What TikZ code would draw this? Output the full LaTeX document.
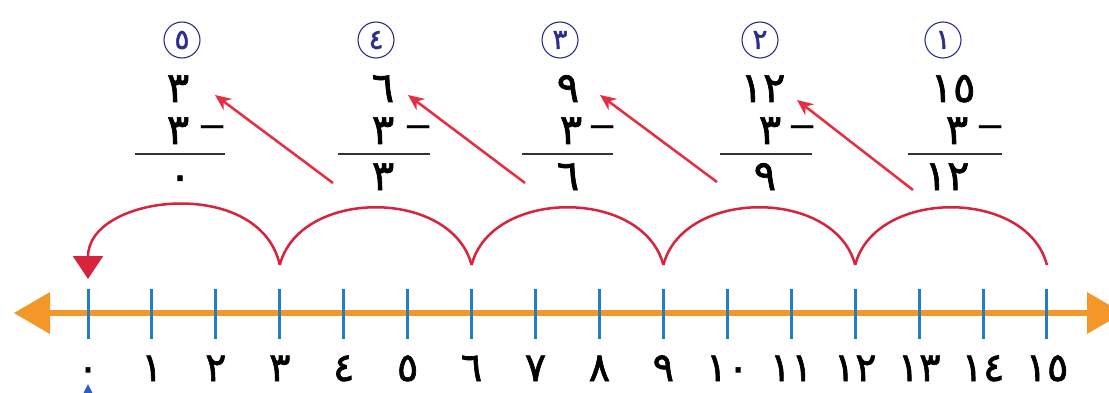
\documentclass[tikz,border=0pt]{standalone}
\usepackage{fontspec}
\newfontfamily\arabicfont[Script=Arabic,FakeBold=1.6]{DejaVu Sans}
\newfontfamily\plainfont{DejaVu Sans}
\usetikzlibrary{arrows.meta}
\definecolor{lineorange}{RGB}{243,152,40}
\definecolor{tickblue}{RGB}{35,125,190}
\definecolor{arcred}{RGB}{215,35,60}
\definecolor{arrred}{RGB}{230,45,65}
\definecolor{navy}{RGB}{45,45,140}
\definecolor{markblue}{RGB}{40,95,200}
\tikzset{
  digit/.style={font=\arabicfont\fontsize{42}{42}\selectfont, inner sep=0pt, anchor=base},
  lbl/.style={font=\arabicfont\fontsize{40}{40}\selectfont, inner sep=0pt, anchor=base},
  minussign/.style={font=\plainfont\fontsize{36}{36}\selectfont, inner sep=0pt},
  circnum/.style={circle, draw=navy, line width=1.1pt, minimum size=36pt, inner sep=0pt, text=navy,
    font=\arabicfont\fontsize{28}{28}\selectfont},
  tickmark/.style={draw=tickblue, line width=3pt},
  hop/.style={draw=arcred, line width=2.5pt},
  diag/.style={draw=arrred, line width=2.5pt, -{Stealth[length=16pt,width=14pt]}},
  rule/.style={draw=black!80, line width=1.2pt}
}
\begin{document}
\begin{tikzpicture}[x=1pt,y=-1pt]
\useasboundingbox (0,0) rectangle (1109,393);
\clip (0,0) rectangle (1109,393);
\fill[white] (0,0) rectangle (1109,393);

% number line
\coordinate (L) at (50,313);
\coordinate (R) at (1087,313);
\draw[draw=lineorange, line width=6pt] (L) -- (R);
\fill[lineorange] (14,313) -- (50,292) -- (50,334) -- cycle;
\fill[lineorange] (1123,313) -- (1087,292) -- (1087,334) -- cycle;

% ticks and labels
\foreach \i/\t in {0/٠,1/١,2/٢,3/٣,4/٤,5/٥,6/٦,7/٧,8/٨,9/٩,10/١٠,11/١١,12/١٢,13/١٣,14/١٤,15/١٥}{
  \coordinate (t\i) at ({88+63.93*\i},313);
  \draw[tickmark] ([yshift=-26pt]t\i) -- ([yshift=24pt]t\i);
  \node[lbl] (n\i) at ({88+63.93*\i},381) {\t};
  \coordinate (a\i) at ({88+63.93*\i},265);
}
\coordinate (a0) at (88,279);

% hops
\draw[hop] (a15) .. controls +(-20,-77) and +(20,-77) .. (a12);
\draw[hop] (a12) .. controls +(-20,-77) and +(20,-77) .. (a9);
\draw[hop] (a9) .. controls +(-20,-77) and +(20,-77) .. (a6);
\draw[hop] (a6) .. controls +(-20,-77) and +(20,-77) .. (a3);
\draw[hop, -{Triangle[length=23pt,width=30pt]}] (a3) .. controls +(-20,-90) and +(0,-85) .. (a0);

% small blue mark
\fill[markblue] (88,384) -- (82,396) -- (94,396) -- cycle;

% circled step numbers
\node[circnum] (c5) at (182,40) {٥};
\node[circnum] (c4) at (376,40) {٤};
\node[circnum] (c3) at (560,40) {٣};
\node[circnum] (c2) at (760,40) {٢};
\node[circnum] (c1) at (943,40) {١};

% stack 5
\node[digit] (s5a) at (178,102) {٣};
\node[digit] (s5b) at (178,144) {٣};
\node[minussign] (m5) at (213,132) {−};
\draw[rule] (135,154) -- (225,154);
\node[digit] (s5c) at (180,190) {٠};
% stack 4
\node[digit] (s4a) at (383,102) {٦};
\node[digit] (s4b) at (383,144) {٣};
\node[minussign] (m4) at (419,132) {−};
\draw[rule] (338,154) -- (430,154);
\node[digit] (s4c) at (383,190) {٣};
% stack 3
\node[digit] (s3a) at (568,102) {٩};
\node[digit] (s3b) at (571,144) {٣};
\node[minussign] (m3) at (603,132) {−};
\draw[rule] (522,154) -- (613,154);
\node[digit] (s3c) at (568,190) {٦};
% stack 2
\node[digit] (s2a) at (763,102) {١٢};
\node[digit] (s2b) at (770,144) {٣};
\node[minussign] (m2) at (803,132) {−};
\draw[rule] (720,154) -- (812,154);
\node[digit] (s2c) at (765,190) {٩};
% stack 1
\node[digit] (s1a) at (953,102) {١٥};
\node[digit] (s1b) at (957,144) {٣};
\node[minussign] (m1) at (991,132) {−};
\draw[rule] (908,154) -- (1002,154);
\node[digit] (s1c) at (947,190) {١٢};

% diagonal arrows
\coordinate (d5s) at (333,183); \coordinate (d5e) at (215,95);
\coordinate (d4s) at (525,183); \coordinate (d4e) at (408,95);
\coordinate (d3s) at (717,182); \coordinate (d3e) at (600,95);
\coordinate (d2s) at (913,190); \coordinate (d2e) at (797,100);
\draw[diag] (d5s) -- (d5e);
\draw[diag] (d4s) -- (d4e);
\draw[diag] (d3s) -- (d3e);
\draw[diag] (d2s) -- (d2e);
\end{tikzpicture}
\end{document}
